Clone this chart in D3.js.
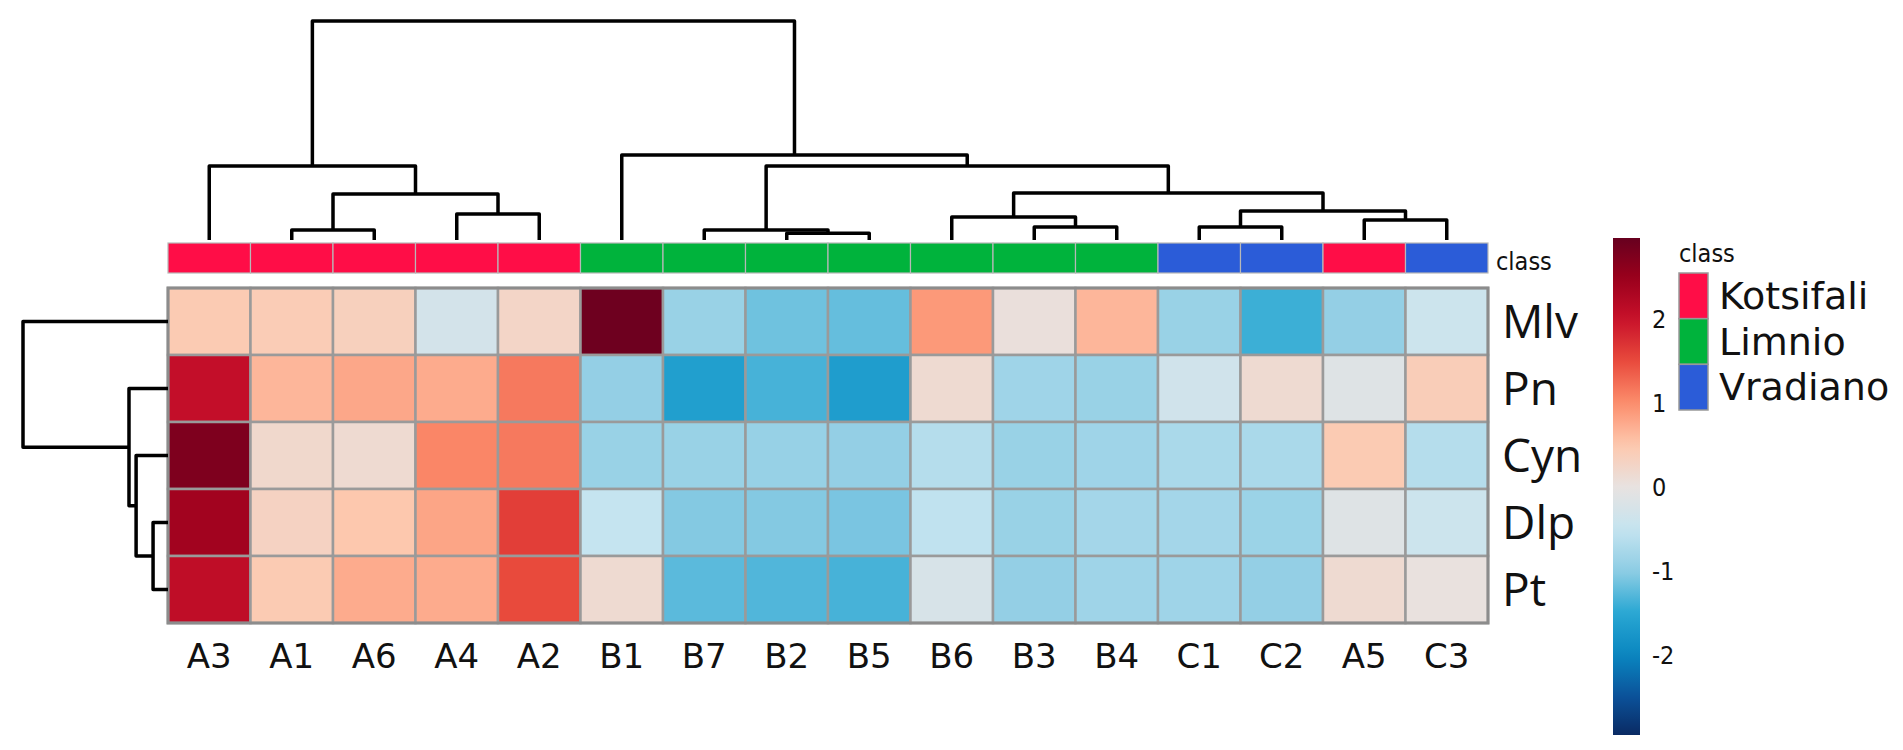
<!DOCTYPE html>
<html>
<head>
<meta charset="utf-8">
<script src="https://cdn.jsdelivr.net/npm/d3@7"></script>
<style>
  html, body { margin: 0; padding: 0; background: #fff; }
  svg { display: block; }
  .colLbl { font-family: "DejaVu Sans", sans-serif; font-size: 34px; fill: #111; }
  .rowLbl { font-family: "Open Sans", sans-serif; font-size: 46px; fill: #111; }
  .small { font-family: "DejaVu Sans Condensed", "DejaVu Sans", sans-serif; font-size: 25px; fill: #111; }
  .legLbl { font-family: "DejaVu Sans", sans-serif; font-size: 38px; fill: #111; }
</style>
</head>
<body>
<svg id="chart" width="1903" height="750"></svg>
<script>
(function () {
  const svg = d3.select("#chart");

  // ---------- data ----------
  const samples = ["A3", "A1", "A6", "A4", "A2", "B1", "B7", "B2", "B5", "B6", "B3", "B4", "C1", "C2", "A5", "C3"];
  const sampleClass = ["Kotsifali", "Kotsifali", "Kotsifali", "Kotsifali", "Kotsifali",
    "Limnio", "Limnio", "Limnio", "Limnio", "Limnio", "Limnio", "Limnio",
    "Vradiano", "Vradiano", "Kotsifali", "Vradiano"];
  const features = ["Mlv", "Pn", "Cyn", "Dlp", "Pt"];
  const values = [
    [0.45, 0.42, 0.35, -0.3, 0.25, 2.9, -0.9, -1.15, -1.2, 0.9, 0.05, 0.65, -0.9, -1.4, -0.95, -0.4],
    [2.05, 0.65, 0.78, 0.75, 1.15, -0.95, -1.62, -1.35, -1.65, 0.15, -0.85, -0.9, -0.35, 0.15, -0.15, 0.4],
    [2.75, 0.2, 0.15, 1.05, 1.15, -0.9, -0.9, -0.92, -0.95, -0.65, -0.9, -0.85, -0.75, -0.75, 0.45, -0.65],
    [2.4, 0.3, 0.5, 0.8, 1.6, -0.5, -1.05, -1.05, -1.1, -0.55, -0.9, -0.8, -0.8, -0.88, -0.15, -0.4],
    [2.1, 0.45, 0.75, 0.75, 1.5, 0.15, -1.25, -1.3, -1.35, -0.25, -0.95, -0.85, -0.85, -0.95, 0.15, 0.02]
  ];
  const classes = ["Kotsifali", "Limnio", "Vradiano"];
  const classColors = ["#ff0d47", "#00b33c", "#2b5cd8"];

  // dendrogram merges: [node, left, right, height]
  const colMerges = [
    ["n2", "A1", "A6", 0.46],
    ["n3", "A4", "A2", 1.19],
    ["n1", "n2", "n3", 2.10],
    ["nA", "A3", "n1", 3.38],
    ["n6", "B2", "B5", 0.31],
    ["n5", "B7", "n6", 0.46],
    ["n9", "B3", "B4", 0.59],
    ["n8", "B6", "n9", 1.05],
    ["n11", "C1", "C2", 0.59],
    ["n12", "A5", "C3", 0.91],
    ["n10", "n11", "n12", 1.32],
    ["n7", "n8", "n10", 2.15],
    ["n4", "n5", "n7", 3.38],
    ["nR", "B1", "n4", 3.88],
    ["root", "nA", "nR", 10]
  ];
  const rowMerges = [
    ["r3", "Dlp", "Pt", 1.03],
    ["r2", "Cyn", "r3", 2.2],
    ["r1", "Pn", "r2", 2.69],
    ["root", "Mlv", "r1", 10]
  ];

  const legendTicks = [2, 1, 0, -1, -2];
  const colorDomain = [-2.95, 2.96];
  const colorStops = [
    [-2.95, "#0a2a63"], [-2.5, "#0b5199"], [-2.0, "#0a86c0"], [-1.5, "#28a7d3"],
    [-1.0, "#8ecde4"], [-0.5, "#c5e4f0"], [0.0, "#e8e2e0"], [0.5, "#fdc8ae"],
    [1.0, "#fc8d6c"], [1.5, "#e84a3c"], [2.0, "#c8102a"], [2.5, "#99001c"], [2.96, "#67001f"]
  ];

  // ---------- layout ----------
  const hm = { x0: 168, x1: 1488, y0: 288, y1: 623 };
  const classBar = { y0: 243, y1: 273 };

  const x = d3.scaleBand().domain(samples).range([hm.x0, hm.x1]);
  const y = d3.scaleBand().domain(features).range([hm.y0, hm.y1]);
  const color = d3.scaleLinear()
    .domain(colorStops.map(d => d[0]))
    .range(colorStops.map(d => d[1]))
    .interpolate(d3.interpolateRgb)
    .clamp(true);
  const classColor = d3.scaleOrdinal().domain(classes).range(classColors);

  // ---------- class bar ----------
  const cb = svg.append("g");
  cb.selectAll("rect").data(samples).join("rect")
    .attr("x", d => x(d)).attr("y", classBar.y0)
    .attr("width", x.bandwidth()).attr("height", classBar.y1 - classBar.y0)
    .attr("fill", (d, i) => classColor(sampleClass[i]))
    .attr("stroke", "#b8b8b8").attr("stroke-width", 1.2);
  svg.append("text").attr("class", "small")
    .attr("x", hm.x1 + 8).attr("y", classBar.y1 - 3).text("class");

  // ---------- heatmap ----------
  const cells = [];
  features.forEach((f, r) => samples.forEach((s, c) => cells.push({ f, s, v: values[r][c] })));
  svg.append("g").selectAll("rect").data(cells).join("rect")
    .attr("x", d => x(d.s)).attr("y", d => y(d.f))
    .attr("width", x.bandwidth()).attr("height", y.bandwidth())
    .attr("fill", d => color(d.v))
    .attr("stroke", "#9a9a9a").attr("stroke-width", 2.5);
  svg.append("rect")
    .attr("x", hm.x0).attr("y", hm.y0).attr("width", hm.x1 - hm.x0).attr("height", hm.y1 - hm.y0)
    .attr("fill", "none").attr("stroke", "#8c8c8c").attr("stroke-width", 3);

  // labels
  svg.append("g").selectAll("text").data(samples).join("text")
    .attr("class", "colLbl").attr("text-anchor", "middle")
    .attr("x", d => x(d) + x.bandwidth() / 2).attr("y", 668).text(d => d);
  svg.append("g").selectAll("text").data(features).join("text")
    .attr("class", "rowLbl")
    .attr("x", hm.x1 + 14).attr("y", d => y(d) + y.bandwidth() / 2 + 16).text(d => d);

  // ---------- dendrograms ----------
  function buildTree(merges, leafPos) {
    const nodes = {};
    merges.forEach(([id, a, b, h]) => {
      const get = k => nodes[k] || { id: k, h: 0, pos: leafPos(k) };
      const l = get(a), r = get(b);
      nodes[id] = { id, h, l, r, pos: (l.pos + r.pos) / 2 };
    });
    return merges.map(m => nodes[m[0]]);
  }

  // column (top)
  const hTop = d3.scaleLinear().domain([0, 10]).range([240, 21]);
  const colNodes = buildTree(colMerges, k => x(k) + x.bandwidth() / 2);
  svg.append("g").selectAll("path").data(colNodes).join("path")
    .attr("d", n => `M${n.l.pos},${hTop(n.l.h)}V${hTop(n.h)}H${n.r.pos}V${hTop(n.r.h)}`)
    .attr("fill", "none").attr("stroke", "#000").attr("stroke-width", 3.5)
    .attr("stroke-linejoin", "round");

  // row (left)
  const hLeft = d3.scaleLinear().domain([0, 10]).range([hm.x0, 23]);
  const rowNodes = buildTree(rowMerges, k => y(k) + y.bandwidth() / 2);
  svg.append("g").selectAll("path").data(rowNodes).join("path")
    .attr("d", n => `M${hLeft(n.l.h)},${n.l.pos}H${hLeft(n.h)}V${n.r.pos}H${hLeft(n.r.h)}`)
    .attr("fill", "none").attr("stroke", "#000").attr("stroke-width", 3.5)
    .attr("stroke-linejoin", "round");

  // ---------- colour bar ----------
  const cbY = d3.scaleLinear().domain(colorDomain).range([735, 238]);
  const grad = svg.append("defs").append("linearGradient")
    .attr("id", "cbar").attr("x1", 0).attr("x2", 0).attr("y1", 1).attr("y2", 0);
  const nStops = 40;
  grad.selectAll("stop").data(d3.range(nStops + 1)).join("stop")
    .attr("offset", i => i / nStops)
    .attr("stop-color", i => color(colorDomain[0] + (colorDomain[1] - colorDomain[0]) * i / nStops));
  svg.append("rect")
    .attr("x", 1613).attr("y", cbY(colorDomain[1]))
    .attr("width", 27).attr("height", cbY(colorDomain[0]) - cbY(colorDomain[1]))
    .attr("fill", "url(#cbar)");
  svg.append("g").selectAll("text").data(legendTicks).join("text")
    .attr("class", "small")
    .attr("x", 1652).attr("y", d => cbY(d) + 9).text(d => d);

  // ---------- class legend ----------
  const leg = svg.append("g");
  leg.append("text").attr("class", "small").attr("x", 1679).attr("y", 262).text("class");
  const sw = d3.scaleBand().domain(classes).range([273, 410]);
  leg.selectAll("rect").data(classes).join("rect")
    .attr("x", 1679).attr("y", d => sw(d)).attr("width", 29).attr("height", sw.bandwidth())
    .attr("fill", d => classColor(d)).attr("stroke", "#999").attr("stroke-width", 1.5);
  leg.selectAll("text.legLbl").data(classes).join("text")
    .attr("class", "legLbl")
    .attr("x", 1719).attr("y", d => sw(d) + sw.bandwidth() / 2 + 13).text(d => d);
})();
</script>
</body>
</html>
